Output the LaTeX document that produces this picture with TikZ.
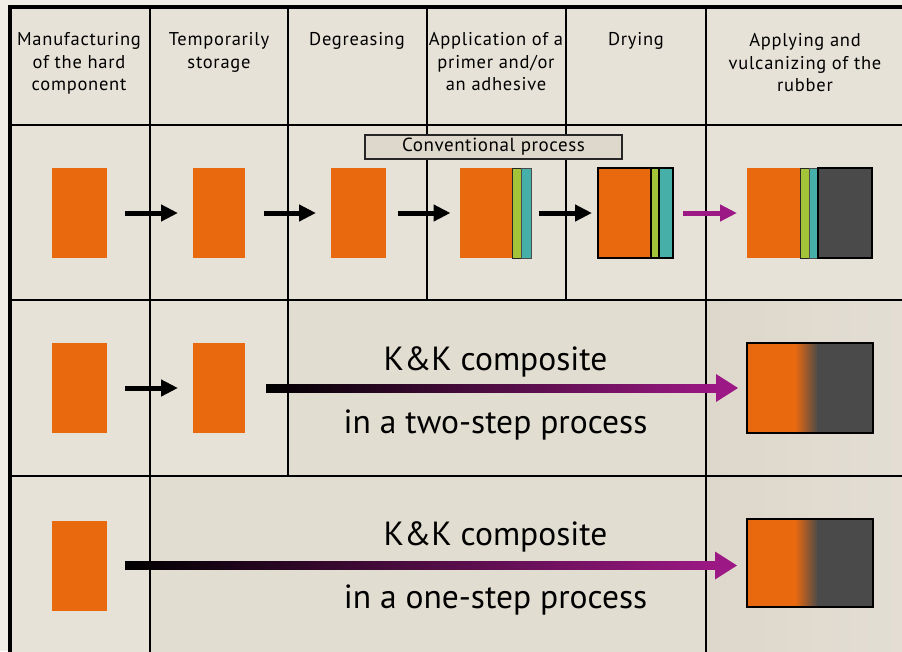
\documentclass[tikz,border=0pt]{standalone}
\usepackage{fontspec}
\setmainfont{PT Sans}
\newfontfamily\hdrfont[LetterSpace=4]{PT Sans}
\newfontfamily\convfont[LetterSpace=3]{PT Sans}
\usetikzlibrary{arrows.meta}
\definecolor{bgout}{RGB}{241,238,231}
\definecolor{cellA}{RGB}{230,226,216}
\definecolor{cellB}{RGB}{226,221,209}
\definecolor{cellCl}{RGB}{222,215,203}
\definecolor{cellCr}{RGB}{227,222,212}
\definecolor{org}{RGB}{233,105,14}
\definecolor{clime}{RGB}{163,196,56}
\definecolor{cteal}{RGB}{70,176,168}
\definecolor{rub}{RGB}{74,74,74}
\definecolor{mag}{RGB}{156,24,132}
\definecolor{midp}{RGB}{100,82,104}
\definecolor{ctan}{RGB}{190,140,100}
\definecolor{convfill}{RGB}{222,216,204}
\begin{document}
\begin{tikzpicture}[x=1pt,y=-1pt,
  grid/.style={line width=2pt, black},
  frame/.style={line width=4pt, black},
  blk/.style={fill=org, minimum width=55pt, minimum height=90pt, inner sep=0pt, outer sep=0pt},
  layg/.style={fill=clime, draw=black!85, line width=1pt, minimum width=#1, minimum height=90pt, inner sep=0pt, outer sep=0pt, anchor=west},
  layc/.style={fill=cteal, draw=black!70, line width=1pt, minimum width=#1, minimum height=90pt, inner sep=0pt, outer sep=0pt, anchor=west},
  arr/.style={line width=5pt, -{Triangle[length=17pt,width=16pt]}},
  hdr/.style={align=center, font=\hdrfont\fontsize{18.5}{22.5}\selectfont, anchor=base, inner sep=0pt},
  big/.style={font=\fontsize{33.5}{40}\selectfont, anchor=base, inner sep=0pt},
  comp/.style={draw=black, line width=2pt, minimum width=126pt, minimum height=90pt, inner sep=0pt, outer sep=0pt}]
\useasboundingbox (0,0) rectangle (902,651);
% backgrounds
\fill[bgout] (0,0) rectangle (902,651);
\fill[cellA] (10,7) rectangle (912,660);
\fill[cellB] (288,300) rectangle (706,476);
\fill[cellB] (150,476) rectangle (706,660);
\shade[left color=cellCl, right color=cellCr] (706,300) rectangle (912,660);
% grid
\draw[grid] (10,125) -- (912,125);
\draw[grid] (10,300) -- (912,300);
\draw[grid] (10,476) -- (912,476);
\draw[grid] (150,7) -- (150,660);
\draw[grid] (288,7) -- (288,476);
\draw[grid] (427,7) -- (427,300);
\draw[grid] (566,7) -- (566,300);
\draw[grid] (706,7) -- (706,660);
\draw[frame] (912,7) -- (10,7) -- (10,660);
% headers (anchor = baseline of the last line)
\node[hdr] (h1) at (79,90.5) {Manufacturing\\of the hard\\component};
\node[hdr] (h2) at (219,68) {Temporarily\\storage};
\node[hdr] (h3) at (357,45.5) {Degreasing};
\node[hdr] (h4) at (496,90.5) {Application of a\\primer and/or\\an adhesive};
\node[hdr] (h5) at (636,45.5) {Drying};
\node[hdr] (h6) at (805,91.5) {Applying and\\vulcanizing of the\\rubber};
% conventional process label
\node[draw=black!85, fill=convfill, line width=1.5pt, minimum width=257pt, minimum height=24pt, inner sep=0pt,
      font=\convfont\fontsize{19}{22}\selectfont] (conv) at (493.5,147) {Conventional process};
% row 1
\node[blk] (o11) at (79.5,213) {};
\node[blk, minimum width=52pt] (o12) at (219,213) {};
\node[blk] (o13) at (358.5,213) {};
\node[blk, minimum width=53pt] (o14) at (486,213) {};
\node[layg=9pt] (g14) at (o14.east) {};
\node[layc=10pt] (c14) at (g14.east) {};
\node[blk, minimum width=53pt, draw=black, line width=1.5pt] (o15) at (624.5,213) {};
\node[layg=8pt, draw=black, line width=1.5pt] (g15) at (o15.east) {};
\node[layc=14pt, draw=black, line width=1.5pt] (c15) at (g15.east) {};
\node[blk, minimum width=53pt] (o16) at (773.5,213) {};
\node[layg=9pt] (g16) at (o16.east) {};
\node[layc=9pt] (c16) at (g16.east) {};
\node[fill=rub, draw=black, line width=1.5pt, minimum width=54pt, minimum height=90pt, inner sep=0pt, outer sep=0pt, anchor=west] (r16) at (c16.east) {};
\draw[arr] ([xshift=18pt]o11.east) -- ([xshift=-15pt]o12.west);
\draw[arr] ([xshift=19pt]o12.east) -- ([xshift=-15pt]o13.west);
\draw[arr] ([xshift=12pt]o13.east) -- ([xshift=-9pt]o14.west);
\draw[arr] ([xshift=7pt]c14.east) -- ([xshift=-6pt]o15.west);
\draw[arr, mag] ([xshift=10pt]c15.east) -- ([xshift=-10pt]o16.west);
% row 2
\node[blk] (o21) at (79.5,388) {};
\node[blk, minimum width=52pt] (o22) at (219,388) {};
\draw[arr] ([xshift=18pt]o21.east) -- ([xshift=-15pt]o22.west);
\fill[org] (747,343) rectangle (796,433);
\shade[left color=org, middle color=ctan, right color=rub] (795,343) rectangle (818,433);
\fill[rub] (817,343) rectangle (873,433);
\node[comp] (k2) at (810,388) {};
\coordinate (a2s) at ([xshift=21pt]o22.east);
\path (a2s -| k2.west) coordinate (kw2);
\coordinate (a2e) at ([xshift=-9pt]kw2);
\shade[left color=black, middle color=midp, right color=mag] ([yshift=4pt]a2s) rectangle ([xshift=-21pt,yshift=-4pt]a2e);
\fill[mag] (a2e) -- ([xshift=-22pt,yshift=14pt]a2e) -- ([xshift=-22pt,yshift=-14pt]a2e) -- cycle;
\node[big] (t2a) at (495.5,370) {K\&K composite};
\node[big] (t2b) at (495.5,433) {in a two-step process};
% row 3
\node[blk] (o31) at (79.5,565.5) {};
\fill[org] (747,519) rectangle (796,607);
\shade[left color=org, middle color=ctan, right color=rub] (795,519) rectangle (818,607);
\fill[rub] (817,519) rectangle (873,607);
\node[comp, minimum height=88pt] (k3) at (810,563) {};
\coordinate (a3s) at ([xshift=18pt]o31.east);
\path (a3s -| k3.west) coordinate (kw3);
\coordinate (a3e) at ([xshift=-10pt]kw3);
\shade[left color=black, middle color=midp, right color=mag] ([yshift=4pt]a3s) rectangle ([xshift=-21pt,yshift=-4pt]a3e);
\fill[mag] (a3e) -- ([xshift=-22pt,yshift=14pt]a3e) -- ([xshift=-22pt,yshift=-14pt]a3e) -- cycle;
\node[big] (t3a) at (495.5,545) {K\&K composite};
\node[big] (t3b) at (495.5,608) {in a one-step process};
\end{tikzpicture}
\end{document}
